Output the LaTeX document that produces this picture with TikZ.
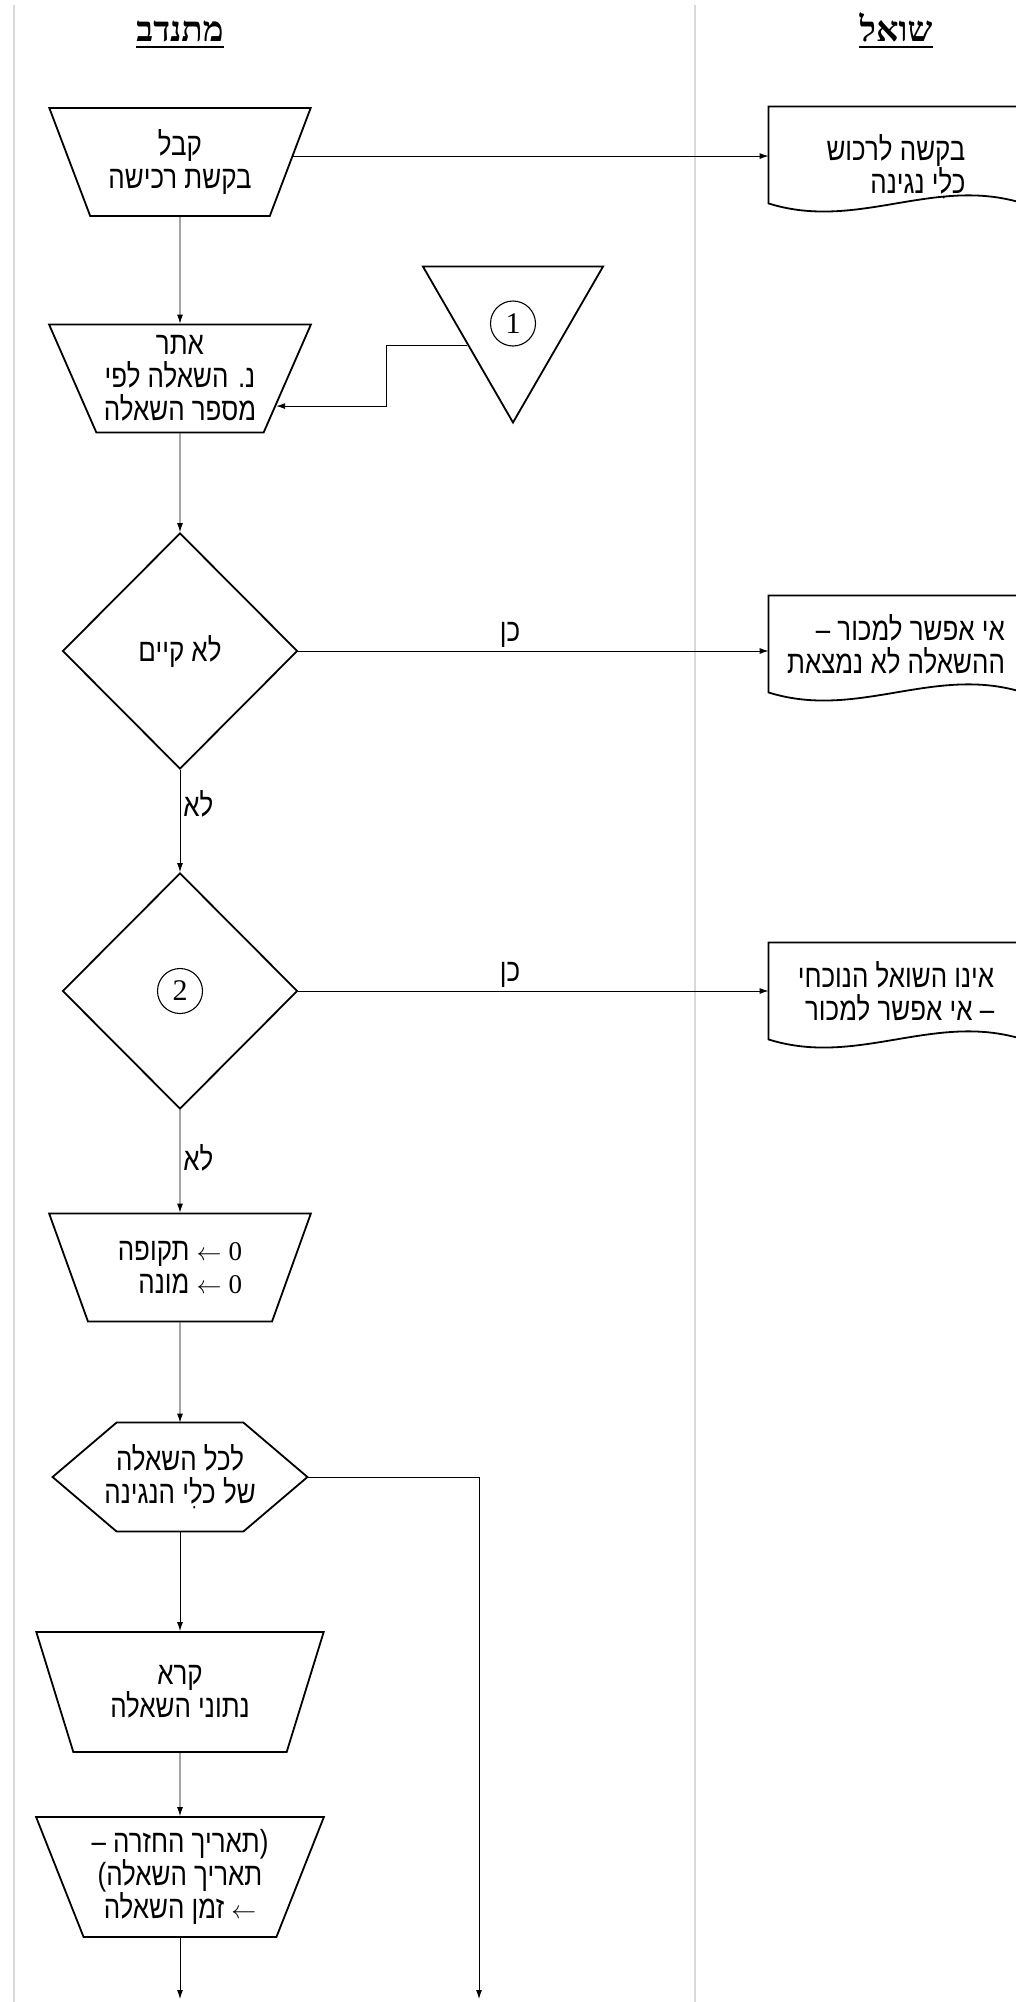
\documentclass[tikz,border=0pt]{standalone}
\usepackage{fontspec}
\setmainfont{Liberation Serif}
\newfontfamily\hebfont[Script=Hebrew,FakeStretch=0.81]{Liberation Sans}
\newfontfamily\hebhead[Script=Hebrew]{Liberation Serif}
\TeXXeTstate=1
\usepackage{tikz}
\usetikzlibrary{arrows.meta}
\usetikzlibrary{calc}
\usetikzlibrary{positioning}
\usetikzlibrary{shapes}
\newcommand{\rl}[1]{\beginR #1\endR}
\newcommand{\dig}[1]{{\rmfamily\fontsize{27}{33}\selectfont #1}}
\newcommand{\setto}{$\leftarrow$}
\newcommand{\docshape}[2][0pt]{%
  \coordinate (#2 sw) at ([yshift=#1]#2.south west);
  \coordinate (#2 nw) at ([yshift=#1]#2.north west);
  \coordinate (#2 ne) at ([yshift=#1]#2.north east);
  \coordinate (#2 se) at ([yshift=#1]#2.south east);
  \draw[-,docline] (#2 sw) -- (#2 nw) -- (#2 ne) -- (#2 se)
    .. controls ($(#2 sw)!0.65!(#2 se)+(0,28pt)$) and ($(#2 sw)!0.35!(#2 se)+(0,-28pt)$) .. (#2 sw) -- cycle;}
\newcommand{\hexshape}[1]{%
  \draw[-,docline] (#1.west) -- ([xshift=64pt]#1.north west) -- ([xshift=-64pt]#1.north east) -- (#1.east)
    -- ([xshift=-64pt]#1.south east) -- ([xshift=64pt]#1.south west) -- cycle;}

\begin{document}
\begin{tikzpicture}[->,>={Latex[length=9pt,width=6pt]},line width=0.9pt,
  txt/.style={font=\hebfont\fontsize{32}{33}\selectfont},
  inbox/.style={trapezium,trapezium left angle=116.6,trapezium right angle=116.6,trapezium stretches=true,minimum width=262pt,minimum height=108pt,inner sep=0pt,draw,line width=1.8pt,txt,align=center},
  wide box/.style={inbox,trapezium left angle=114.6,trapezium right angle=114.6,minimum width=288pt,minimum height=120pt},
  test node/.style={diamond,minimum width=235pt,minimum height=236pt,inner sep=0pt,draw,line width=1.8pt,txt},
  loop node/.style={rectangle,minimum width=254pt,minimum height=108pt,inner sep=0pt,txt,align=center},
  doc node/.style={rectangle,minimum width=254pt,minimum height=96pt,inner sep=0pt,txt,align=right},
  docline/.style={line width=1.8pt,line join=miter},
  off node/.style={regular polygon,regular polygon sides=3,shape border rotate=180,minimum size=208pt,inner sep=0pt,draw,line width=1.8pt},
  num node/.style={circle,draw,line width=1.1pt,minimum size=45pt,inner sep=0pt,font=\fontsize{30}{30}\selectfont},
  lbl/.style={txt,inner sep=3pt},
  head/.style={font=\hebhead\bfseries\fontsize{35}{40}\selectfont,anchor=base,inner sep=0pt},
  headline/.style={-,line width=2.4pt},
  lane/.style={-,black!15,line width=1.5pt}]

  \useasboundingbox (0,0) rectangle (1016pt,-2002pt);
  \draw[lane] (14pt,-5pt) -- (14pt,-2002pt);
  \draw[lane] (695pt,-5pt) -- (695pt,-2002pt);

  \node[head] (hd1) at (180pt,-42pt) {\rl{מתנדב}};
  \node[head] (hd2) at (896pt,-42pt) {\rl{שואל}};
  \draw[headline] ([yshift=-5pt]hd1.base west) -- ([yshift=-5pt]hd1.base east);
  \draw[headline] ([yshift=-5pt]hd2.base west) -- ([yshift=-5pt]hd2.base east);

  % volunteer column
  \node[inbox] (tr1) at (180pt,-162pt) {\rl{קבל}\\\rl{בקשת רכישה}};
  \node[inbox] (tr2) [node distance=216.5pt,below of=tr1] {\rl{אתר}\\\rl{נ. השאלה לפי}\\\rl{מספר השאלה}};
  \node[test node] (d1) [node distance=272.5pt,below of=tr2] {\rl{לא קיים}};
  \node[test node] (d2) [node distance=340pt,below of=d1] {};
  \node[num node] (n2) at (d2) {2};
  \node[inbox,align=right] (tr3) [node distance=276.5pt,below of=d2] {\rl{\dig{0} \setto{} תקופה}\\\rl{\dig{0} \setto{} מונה}};
  \node[loop node] (hex) [node distance=209.5pt,below of=tr3] {\rl{לכל השאלה}\\\rl{של כלִי הנגינה}};
  \hexshape{hex}
  \node[wide box] (tr4) [node distance=215pt,below of=hex] {\rl{קרא}\\\rl{נתוני השאלה}};
  \node[wide box] (tr5) [node distance=185pt,below of=tr4] {\rl{(\kern0pt תאריך החזרה –}\\\rl{תאריך השאלה\kern0pt)}\\\rl{\setto{} זמן השאלה}};
  \coordinate (e1) at (180pt,-1999pt);
  \coordinate (e2) at (479pt,-1999pt);

  % connector 1
  \node[off node] (tri1) [node distance=333pt,right of=tr2,yshift=60pt] {};
  \node[num node] (n1) [node distance=5pt,below of=tri1] {1};

  % borrower column
  \node[doc node] (doc1) [node distance=716pt,right of=tr1,yshift=-5pt] {\rl{בקשה לרכוש}\\\rl{כלִי נגינה}};
  \node[doc node] (doc2) [node distance=716pt,right of=d1,yshift=7pt] {\rl{אי אפשר למכור –}\\\rl{ההשאלה לא נמצאת}};
  \node[doc node] (doc3) [node distance=716pt,right of=d2] {\rl{אינו השואל הנוכחי}\\\rl{– אי אפשר למכור}};
  \docshape[12pt]{doc1}
  \docshape{doc2}
  \docshape{doc3}

  \draw (tr1) -- (tr2);
  \draw (tr2) -- (d1);
  \draw (d1) -- node[lbl,right,pos=.33] {\rl{לא}} (d2);
  \draw (d2) -- node[lbl,right,pos=.47] {\rl{לא}} (tr3);
  \draw (tr3) -- (hex);
  \draw (hex) -- (tr4);
  \draw (tr4) -- (tr5);
  \draw (tr5) -- (e1);
  \draw (hex.east) -| (e2);
  \draw (tr1.3) -- (tr1.3 -| doc1.west);
  \draw (d1.east) -- node[lbl,above,pos=.45] {\rl{כן}} (d1.east -| doc2.west);
  \draw (d2.east) -- node[lbl,above,pos=.45] {\rl{כן}} (d2.east -| doc3.west);
  \draw (tri1.210) -| ([xshift=110pt]tr2.344) -- (tr2.344);

\end{tikzpicture}
\end{document}
